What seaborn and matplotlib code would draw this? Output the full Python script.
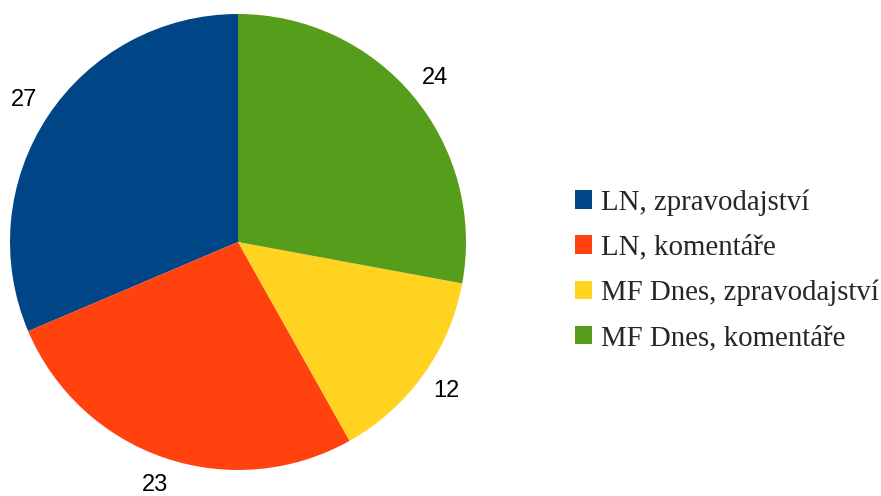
import matplotlib
matplotlib.use("Agg")
import matplotlib.pyplot as plt
from matplotlib.patches import Patch
import seaborn as sns

categories = ["LN, zpravodajství", "LN, komentáře", "MF Dnes, zpravodajství", "MF Dnes, komentáře"]
values = [27, 23, 12, 24]
colors = ["#004586", "#ff420e", "#ffd320", "#579d1c"]

sns.set_theme(style="white")
plt.rcParams["font.family"] = ["Liberation Sans", "DejaVu Sans"]

W, H = 881, 496
fig = plt.figure(figsize=(W / 100, H / 100), dpi=100)
cx, cy, r = 238, 254, 228
ax = fig.add_axes([(cx - r) / W, (cy - r) / H, 2 * r / W, 2 * r / H])
palette = sns.color_palette(colors)
wedges, texts = ax.pie(values, labels=[str(v) for v in values], colors=palette,
                       startangle=90, counterclock=True, labeldistance=1.125,
                       wedgeprops=dict(linewidth=0, edgecolor="none"),
                       textprops=dict(fontsize=17, color="black", family=["Liberation Sans", "DejaVu Sans"]))
for t in texts:
    t.set_horizontalalignment("center")
    t.set_verticalalignment("center")
ax.set_aspect("equal")
ax.set_xlim(-1, 1)
ax.set_ylim(-1, 1)
ax.axis("off")

handles = [Patch(facecolor=c, edgecolor="none") for c in palette]
leg = fig.legend(handles, categories, loc="center left", bbox_to_anchor=(575 / W, 0.455),
                 frameon=False, prop=dict(family=["Liberation Serif", "DejaVu Serif"], size=20.8),
                 handlelength=0.6, handleheight=0.6, handletextpad=0.3, labelspacing=0.66,
                 borderaxespad=0, borderpad=0)

fig.savefig("out.png", dpi=100)
